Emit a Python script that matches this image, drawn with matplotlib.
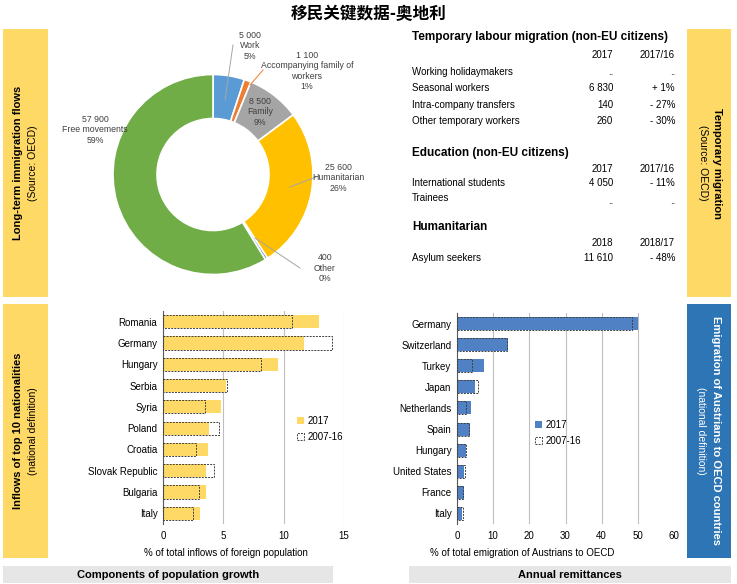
import matplotlib
matplotlib.use("Agg")
import matplotlib.pyplot as plt
from matplotlib.patches import Rectangle, Patch
from matplotlib.lines import Line2D

plt.rcParams['font.family'] = ['Liberation Sans Narrow', 'Liberation Sans', 'DejaVu Sans']

W, H = 737, 584

# donut: long-term immigration flows
pie_labels = ["Work", "Accompanying family of\nworkers", "Family", "Humanitarian", "Other", "Free movements"]
pie_values = [5000, 1100, 8500, 25600, 400, 57900]
pie_pcts = ["5%", "1%", "9%", "26%", "0%", "59%"]
pie_colors = ["#5B9BD5", "#ED7D31", "#A5A5A5", "#FFC000", "#4472C4", "#70AD47"]

# temporary migration table
labour_rows = ["Working holidaymakers", "Seasonal workers", "Intra-company transfers", "Other temporary workers"]
labour_2017 = ["..", "6 830", "140", "260"]
labour_chg = ["..", "+ 1%", "- 27%", "- 30%"]
edu_rows = ["International students", "Trainees"]
edu_2017 = ["4 050", ".."]
edu_chg = ["- 11%", ".."]
hum_rows = ["Asylum seekers"]
hum_2018 = ["11 610"]
hum_chg = ["- 48%"]

# inflows of top 10 nationalities
in_countries = ["Romania", "Germany", "Hungary", "Serbia", "Syria", "Poland", "Croatia",
                "Slovak Republic", "Bulgaria", "Italy"]
in_2017 = [12.9, 11.7, 9.5, 5.2, 4.8, 3.8, 3.7, 3.6, 3.6, 3.1]
in_0716 = [10.7, 14.0, 8.1, 5.3, 3.5, 4.6, 2.7, 4.2, 3.0, 2.5]

# emigration of Austrians
em_countries = ["Germany", "Switzerland", "Turkey", "Japan", "Netherlands", "Spain", "Hungary",
                "United States", "France", "Italy"]
em_2017 = [50.1, 14.1, 7.4, 4.9, 4.0, 3.5, 2.4, 1.9, 1.8, 1.5]
em_0716 = [48.3, 13.9, 4.2, 5.8, 2.6, 3.3, 2.6, 2.3, 1.7, 1.6]

YELLOW = "#FFD966"
BLUE_PANEL = "#2E75B6"
BLUE_BAR = "#4F81C4"
GREY_BAR = "#E7E6E6"


def fx(x):
    return x / W


def fy(y):
    return 1 - y / H


fig = plt.figure(figsize=(W / 100, H / 100), dpi=100)


def box(x0, y0, x1, y1, color):
    fig.patches.append(Rectangle((fx(x0), fy(y1)), (x1 - x0) / W, (y1 - y0) / H,
                                 transform=fig.transFigure, facecolor=color, edgecolor='none', zorder=0))


def txt(x, y, s, **kw):
    kw.setdefault('fontsize', 7)
    kw.setdefault('va', 'center')
    fig.text(fx(x), fy(y), s, **kw)


def line(xs, ys, color):
    fig.add_artist(Line2D([fx(v) for v in xs], [fy(v) for v in ys], color=color, lw=0.7,
                          transform=fig.transFigure))


# title
fig.text(0.5, fy(14), "移民关键数据-奥地利", ha='center', va='center', fontsize=12,
         fontweight='bold', family=['Noto Sans CJK SC', 'DejaVu Sans'])

# side panels
box(3, 29, 48, 297, YELLOW)
box(3, 304, 48, 558, YELLOW)
box(687, 29, 731, 297, YELLOW)
box(687, 304, 731, 558, BLUE_PANEL)
box(3, 566, 333, 583, GREY_BAR)
box(409, 566, 731, 583, GREY_BAR)

txt(18, 163, "Long-term immigration flows", rotation=90, ha='center', fontsize=8, fontweight='bold')
txt(33, 163, "(Source: OECD)", rotation=90, ha='center', fontsize=7.5)
txt(18, 431, "Inflows of top 10 nationalities", rotation=90, ha='center', fontsize=8, fontweight='bold')
txt(33, 431, "(national definition)", rotation=90, ha='center', fontsize=7.5)
txt(717, 163, "Temporary migration", rotation=-90, ha='center', fontsize=8, fontweight='bold')
txt(703, 163, "(Source: OECD)", rotation=-90, ha='center', fontsize=7.5)
txt(716, 431, "Emigration of Austrians to OECD countries", rotation=-90, ha='center', fontsize=8,
    color='white', fontweight='bold')
txt(701, 431, "(national definition)", rotation=-90, ha='center', fontsize=7.5, color='white')
txt(168, 575, "Components of population growth", ha='center', fontsize=8, fontweight='bold')
txt(570, 575, "Annual remittances", ha='center', fontsize=8, fontweight='bold')

# donut
axp = fig.add_axes([fx(113), fy(274.5), 200 / W, 200 / H])
axp.pie(pie_values, colors=pie_colors, startangle=90, counterclock=False, radius=1,
        wedgeprops=dict(width=0.44, edgecolor='white', linewidth=1.2))
axp.set_xlim(-1, 1)
axp.set_ylim(-1, 1)
axp.set_aspect('equal')
axp.axis('off')

label_pos = [(250, 46), (307, 71), (260, 112), (338, 178), (325, 268), (95, 130)]
for (x, y), v, name, p in zip(label_pos, pie_values, pie_labels, pie_pcts):
    s = f"{v:,}".replace(",", " ") + "\n" + name + "\n" + p
    txt(x, y, s, ha='center', fontsize=6.3, color='#404040', linespacing=1.15)
line([225, 233], [100, 45], '#A5A5A5')
line([250, 263], [85, 70], '#ED7D31')
line([290, 316], [187, 177], '#A5A5A5')
line([255, 300], [238, 268], '#A5A5A5')

# table
tx, c1, c2 = 412, 613, 675
txt(tx, 37, "Temporary labour migration (non-EU citizens)", fontsize=8.5, fontweight='bold')
txt(c1, 55, "2017", ha='right')
txt(c2, 55, "2017/16", ha='right')
for i, (r, a, b) in enumerate(zip(labour_rows, labour_2017, labour_chg)):
    y = 72 + i * 16.3
    txt(tx, y, r)
    txt(c1, y, a, ha='right')
    txt(c2, y, b, ha='right')
txt(tx, 153, "Education (non-EU citizens)", fontsize=8.5, fontweight='bold')
txt(c1, 169, "2017", ha='right')
txt(c2, 169, "2017/16", ha='right')
for i, (r, a, b) in enumerate(zip(edu_rows, edu_2017, edu_chg)):
    y = 183 + i * 15
    txt(tx, y, r)
    txt(c1, y + i * 3, a, ha='right')
    txt(c2, y + i * 3, b, ha='right')
txt(tx, 227, "Humanitarian", fontsize=8.5, fontweight='bold')
txt(c1, 243, "2018", ha='right')
txt(c2, 243, "2018/17", ha='right')
for r, a, b in zip(hum_rows, hum_2018, hum_chg):
    txt(tx, 258, r)
    txt(c1, 258, a, ha='right')
    txt(c2, 258, b, ha='right')


def bar_panel(rect, cats, cur, prev, color, xmax, step, xlabel, xlab_x, leg_xy):
    ax = fig.add_axes(rect)
    y = list(range(len(cats)))
    ax.barh(y, cur, height=0.62, color=color, zorder=2, label="2017")
    ax.barh(y, prev, height=0.62, fill=False, edgecolor='#404040', linestyle=(0, (2, 1.2)),
            linewidth=0.7, zorder=3)
    ax.set_yticks(y)
    ax.set_yticklabels(cats, fontsize=7)
    ax.set_ylim(len(cats) - 0.5, -0.5)
    ax.set_xlim(0, xmax)
    ax.set_xticks(range(0, xmax + 1, step))
    ax.tick_params(axis='x', labelsize=7, length=0, pad=5)
    ax.tick_params(axis='y', length=0, pad=4)
    ax.xaxis.grid(True, color='#BFBFBF', lw=0.8)
    ax.set_axisbelow(True)
    for s in ['top', 'right', 'bottom']:
        ax.spines[s].set_visible(False)
    ax.spines['left'].set_color('#595959')
    ax.spines['left'].set_linewidth(0.8)
    ax.set_xlabel(xlabel, fontsize=7)
    ax.xaxis.set_label_coords((fx(xlab_x) - rect[0]) / rect[2], -0.115)
    handles = [Patch(facecolor=color, edgecolor='none'),
               Patch(facecolor='white', edgecolor='#404040', linestyle=(0, (2, 1.2)), linewidth=0.7)]
    fig.legend(handles, ["2017", "2007-16"], loc='center left', fontsize=7, frameon=False,
               bbox_to_anchor=(fx(leg_xy[0]), fy(leg_xy[1])), bbox_transform=fig.transFigure,
               handlelength=0.7, handleheight=0.7, handletextpad=0.4, labelspacing=0.6,
               borderpad=0, borderaxespad=0)
    return ax


bar_panel([fx(163), fy(524), (344 - 163) / W, (524 - 311) / H], in_countries, in_2017, in_0716,
          YELLOW, 15, 5, "% of total inflows of foreign population", 226, (297, 429))
bar_panel([fx(457), fy(524), (674 - 457) / W, (524 - 313) / H], em_countries, em_2017, em_0716,
          BLUE_BAR, 60, 10, "% of total emigration of Austrians to OECD", 522, (535, 433))

fig.savefig("out.png", dpi=100)
